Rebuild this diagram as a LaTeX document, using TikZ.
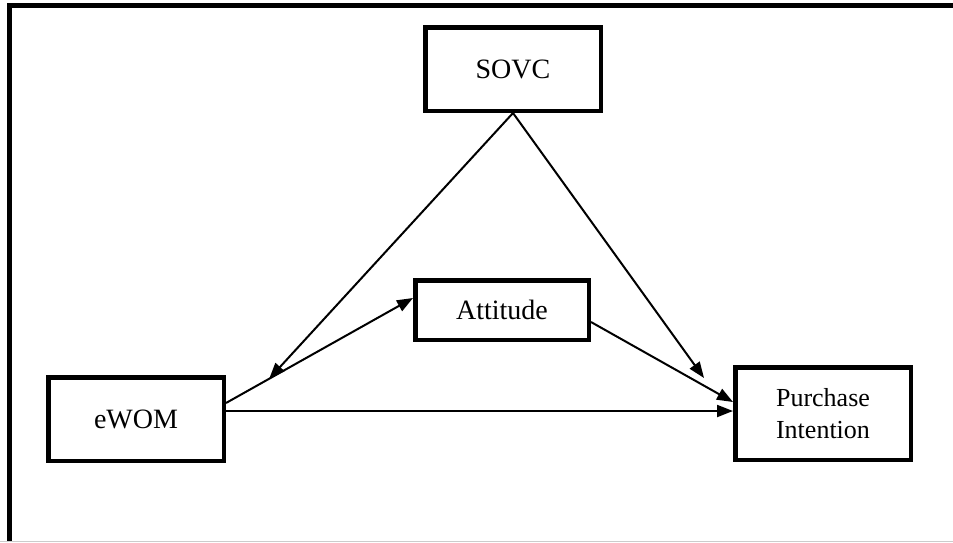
\documentclass[tikz,border=0pt]{standalone}
\usepackage{fontspec}
\setmainfont{Liberation Serif}
\usetikzlibrary{arrows.meta,calc}
\begin{document}
\begin{tikzpicture}[x=1pt,y=-1pt,
  box/.style={draw, line width=4.5pt, inner sep=0pt, minimum width=175.5pt, minimum height=83.5pt, font=\fontsize{28}{32}\selectfont},
  arr/.style={line width=2pt, -{Triangle[length=16pt,width=12pt]}}]
\useasboundingbox (0,0) rectangle (953,542);
\draw[line width=5pt] (9.5,542) -- (9.5,5.5) -- (953,5.5);
\draw[gray!40, line width=1pt] (0,541.5) -- (953,541.5);
\node[box] (sovc) at (513,69) {SOVC};
\node[box, minimum width=173.5pt, minimum height=59.5pt] (att) at (502,310) {Attitude};
\node[box] (ewom) at (136,419) {eWOM};
\node[box, minimum height=92.5pt, align=center, font=\fontsize{26}{32}\selectfont] (pi) at (823,413.5) {Purchase\\Intention};
\coordinate (ea) at ([yshift=16pt]ewom.east);
\coordinate (aw) at ([yshift=12pt]att.west);
\coordinate (mod) at ($(ea)!0.231!(aw)$);
\coordinate (sp) at (704,378);
\draw[arr] (ea) -- (aw);
\draw[arr] (sovc.south) -- (mod);
\draw[arr] (sovc.south) -- (sp);
\draw[arr] ([yshift=-12pt]att.east) -- ([yshift=11.5pt]pi.west);
\draw[arr] ([yshift=8pt]ewom.east) -- ([yshift=8pt]ewom.east -| pi.west);
\end{tikzpicture}
\end{document}
